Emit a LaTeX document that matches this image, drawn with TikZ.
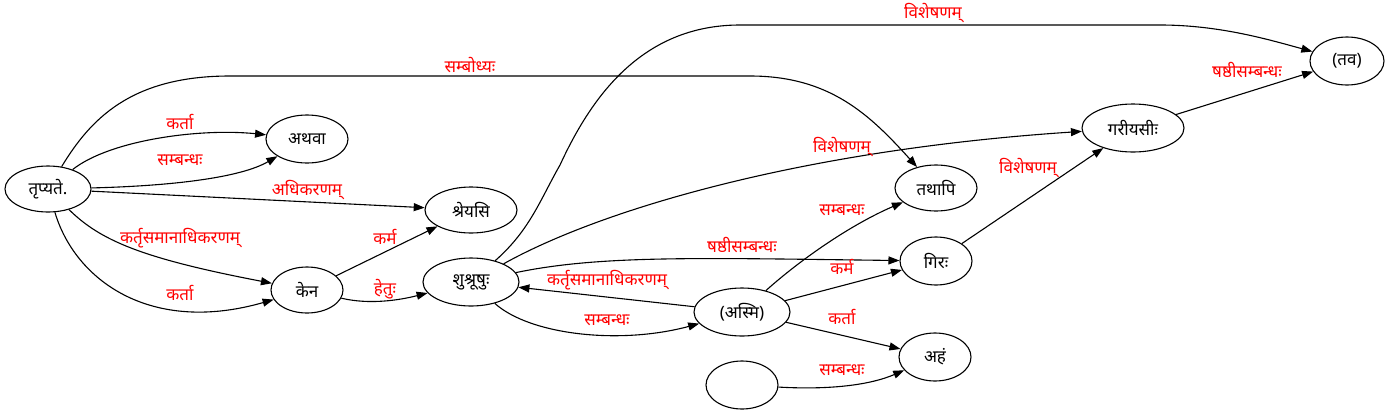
\documentclass[tikz,border=0pt]{standalone}
\usepackage{fontspec}
\setmainfont{Noto Sans}[Script=Devanagari]
\usetikzlibrary{arrows.meta,shapes.geometric}
\definecolor{lblred}{RGB}{255,0,0}
\tikzset{
  wnode/.style={draw=black,ellipse,line width=1.1pt,inner sep=0pt,font=\fontsize{17}{19}\selectfont},
  edge/.style={draw=black,line width=1.1pt,-{Triangle[length=11pt,width=8pt]}},
  lbl/.style={text=lblred,inner sep=0pt,font=\fontsize{17}{19}\selectfont}
}
\begin{document}
\begin{tikzpicture}[x=1pt,y=-1pt]
\useasboundingbox (0,0) rectangle (1389,413);
% nodes
\node[wnode,minimum width=86pt,minimum height=46pt] (trp) at (48,189) {तृप्यते.};
\node[wnode,minimum width=82pt,minimum height=48pt] (atha) at (307,139) {अथवा};
\node[wnode,minimum width=92pt,minimum height=46pt] (shre) at (471,210) {श्रेयसि};
\node[wnode,minimum width=72pt,minimum height=46pt] (kena) at (307,290) {केन};
\node[wnode,minimum width=96pt,minimum height=48pt] (shush) at (471,282) {शुश्रूषुः};
\node[wnode,minimum width=96pt,minimum height=48pt] (asmi) at (742,312) {(अस्मि)};
\node[wnode,minimum width=72pt,minimum height=48pt] (empty) at (742,385) {};
\node[wnode,minimum width=82pt,minimum height=46pt] (tatha) at (936,188) {तथापि};
\node[wnode,minimum width=72pt,minimum height=48pt] (gira) at (936,261) {गिरः};
\node[wnode,minimum width=72pt,minimum height=48pt] (aham) at (935,357) {अहं};
\node[wnode,minimum width=102pt,minimum height=48pt] (gari) at (1133,128) {गरीयसीः};
\node[wnode,minimum width=74pt,minimum height=48pt] (tava) at (1347,61) {(तव)};
% edges
\draw[edge] (trp) .. controls (110,140) and (200,128) .. (atha);
\draw[edge] (trp) .. controls (170,186) and (240,178) .. (atha);
\draw[edge] (trp) -- (shre);
\draw[edge] (trp) .. controls (100,240) and (140,258) .. (kena);
\draw[edge] (trp) .. controls (75,280) and (150,335) .. (kena);
\draw[edge] (trp) .. controls (90,120) and (130,76) .. (230,76) -- (750,76) .. controls (830,76) and (870,115) .. (tatha);
\draw[edge] (kena) -- (shre);
\draw[edge] (kena) .. controls (370,305) and (400,300) .. (shush);
\draw[edge] (shush) .. controls (530,230) and (540,200) .. (560,165) .. controls (590,100) and (640,25) .. (740,25) -- (1160,25) .. controls (1220,25) and (1270,40) .. (tava);
\draw[edge] (shush) .. controls (600,210) and (800,150) .. (gari);
\draw[edge] (shush) .. controls (600,255) and (700,258) .. (gira);
\draw[edge] (asmi) -- (shush);
\draw[edge] (shush) .. controls (530,335) and (620,345) .. (asmi);
\draw[edge] (asmi) .. controls (800,260) and (850,225) .. (tatha);
\draw[edge] (asmi) -- (gira);
\draw[edge] (asmi) -- (aham);
\draw[edge] (empty) .. controls (830,390) and (870,385) .. (aham);
\draw[edge] (gira) -- (gari);
\draw[edge] (gari) -- (tava);
% labels
\node[lbl] (l1) at (180,122) {कर्ता};
\node[lbl] (l2) at (180,160) {सम्बन्धः};
\node[lbl] (l3) at (307,190) {अधिकरणम्};
\node[lbl] (l4) at (180,238) {कर्तृसमानाधिकरणम्};
\node[lbl] (l5) at (180,293) {कर्ता};
\node[lbl] (l6) at (470,65) {सम्बोध्यः};
\node[lbl] (l7) at (385,237) {कर्म};
\node[lbl] (l8) at (385,289) {हेतुः};
\node[lbl] (l9) at (933,13) {विशेषणम्};
\node[lbl] (l10) at (842,147) {विशेषणम्};
\node[lbl] (l11) at (742,245) {षष्ठीसम्बन्धः};
\node[lbl] (l12) at (607,280) {कर्तृसमानाधिकरणम्};
\node[lbl] (l13) at (607,320) {सम्बन्धः};
\node[lbl] (l14) at (842,210) {सम्बन्धः};
\node[lbl] (l15) at (842,267) {कर्म};
\node[lbl] (l16) at (842,317) {कर्ता};
\node[lbl] (l17) at (842,370) {सम्बन्धः};
\node[lbl] (l18) at (1028,168) {विशेषणम्};
\node[lbl] (l19) at (1247,70) {षष्ठीसम्बन्धः};
\end{tikzpicture}
\end{document}
